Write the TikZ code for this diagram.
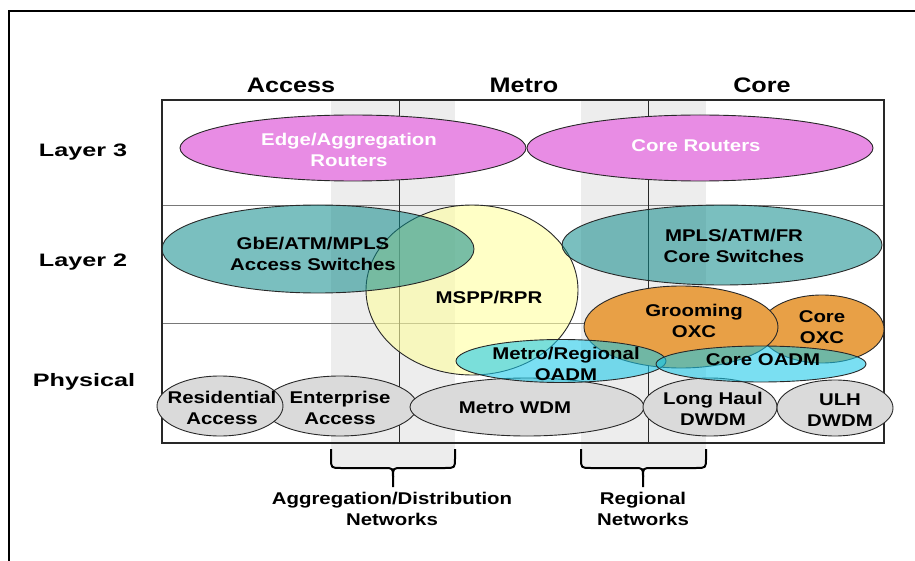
\documentclass[tikz,border=0pt]{standalone}
\usepackage{fontspec}
\usetikzlibrary{shapes.geometric}
\newfontfamily\labfont{Liberation Sans}[FakeStretch=1.2]
\newfontfamily\rowfont{Liberation Sans}[FakeStretch=1.4]
\definecolor{bandgray}{RGB}{237,237,237}
\definecolor{mag}{RGB}{232,140,228}
\definecolor{tealc}{RGB}{13,138,138}
\definecolor{yel}{RGB}{255,255,160}
\definecolor{orng}{RGB}{232,160,70}
\definecolor{cyanc}{RGB}{26,200,233}
\definecolor{grayc}{RGB}{218,218,218}
\definecolor{edgec}{RGB}{40,40,40}
\definecolor{gridgray}{RGB}{120,120,120}
\begin{document}
\begin{tikzpicture}[x=1pt,y=-1pt,
  oval/.style={ellipse, draw=edgec, line width=0.9pt, inner sep=0pt},
  lbl/.style={font=\labfont\bfseries\fontsize{17}{21}\selectfont, align=center, inner sep=0pt},
  hdr/.style={font=\labfont\bfseries\fontsize{21}{25}\selectfont, inner sep=0pt},
  rowlbl/.style={font=\rowfont\bfseries\fontsize{18}{22}\selectfont, inner sep=0pt},
  band/.style={fill=bandgray, draw=none},
  bracestyle/.style={draw=black, line width=2pt, line join=round}
]
\useasboundingbox (0,0) rectangle (915,561);
% outer frame
\coordinate (fbl) at (9,561);
\coordinate (ftl) at (9,11);
\coordinate (ftr) at (915,11);
\draw[line width=2.5pt] (fbl) -- (ftl) -- (ftr);
% shaded bands
\fill[band] (331,100) rectangle (455,467);
\fill[band] (581,100) rectangle (706,467);
% grid
\coordinate (gtl) at (162,100);
\coordinate (gbr) at (884,443);
\draw[gridgray, line width=0.9pt] (162,205) -- (884,205);
\draw[gridgray, line width=0.9pt] (162,323) -- (884,323);
\draw[edgec, line width=1pt] (399,100) -- (399,443);
\draw[edgec, line width=1pt] (648,100) -- (648,443);
\draw[edgec, line width=1.3pt] (gtl) rectangle (gbr);
% layer 3
\node[oval, fill=mag, minimum width=346pt, minimum height=66pt] (er) at (353,148) {};
\node[oval, fill=mag, minimum width=346pt, minimum height=66pt] (cr) at (700,148) {};
% layer 2
\node[oval, fill=yel, fill opacity=0.6, minimum width=212pt, minimum height=170pt] (mspp) at (472,290) {};
\node[oval, fill=tealc, fill opacity=0.55, minimum width=312pt, minimum height=88pt] (gbe) at (318,249) {};
\node[oval, fill=tealc, fill opacity=0.55, minimum width=320pt, minimum height=80pt] (mplsc) at (722,245) {};
% OXC
\node[oval, fill=orng, minimum width=124pt, minimum height=68pt] (coxc) at (822,329) {};
\node[oval, fill=orng, minimum width=194pt, minimum height=82pt] (goxc) at (681,327) {};
% physical
\node[oval, fill=grayc, minimum width=154pt, minimum height=60pt] (ent) at (340,406) {};
\node[oval, fill=grayc, minimum width=126pt, minimum height=60pt] (res) at (220,406) {};
\node[oval, fill=grayc, minimum width=234pt, minimum height=58pt] (mwdm) at (527,407) {};
\node[oval, fill=grayc, minimum width=134pt, minimum height=58pt] (lh) at (710,407) {};
\node[oval, fill=grayc, minimum width=116pt, minimum height=56pt] (ulh) at (835,408) {};
% OADM
\node[oval, fill=cyanc, fill opacity=0.58, minimum width=210pt, minimum height=43pt] (mro) at (561,361) {};
\node[oval, fill=cyanc, fill opacity=0.58, minimum width=210pt, minimum height=36pt] (coadm) at (761,364) {};
% texts
\node[hdr] (hacc) at (291,85) {Access};
\node[hdr] (hmet) at (524,85) {Metro};
\node[hdr] (hcor) at (762,85) {Core};
\node[rowlbl] (l3) at (83,152) {Layer 3};
\node[rowlbl] (l2) at (83,262) {Layer 2};
\node[rowlbl] (lp) at (84,382) {Physical};
\node[lbl, text=white] (ter) at (349,150) {Edge/Aggregation\\Routers};
\node[lbl, text=white] (tcr) at (696,146) {Core Routers};
\node[lbl] (tgbe) at (313,254) {GbE/ATM/MPLS\\Access Switches};
\node[lbl] (tmspp) at (489,298) {MSPP/RPR};
\node[lbl] (tmplsc) at (734,246) {MPLS/ATM/FR\\Core Switches};
\node[lbl] (tgoxc) at (694,321) {Grooming\\OXC};
\node[lbl] (tcoxc) at (822,327) {Core\\OXC};
\node[lbl] (tmro) at (566,364) {Metro/Regional\\OADM};
\node[lbl] (tcoadm) at (763,360) {Core OADM};
\node[lbl] (tres) at (222,408) {Residential\\Access};
\node[lbl] (tent) at (340,408) {Enterprise\\Access};
\node[lbl] (tmwdm) at (515,408) {Metro WDM};
\node[lbl] (tlh) at (713,409) {Long Haul\\DWDM};
\node[lbl] (tulh) at (840,410) {ULH\\DWDM};
\node[lbl] (tagg) at (392,509) {Aggregation/Distribution\\Networks};
\node[lbl] (treg) at (643,509) {Regional\\Networks};
% braces
\coordinate (b1l) at (331,449); \coordinate (b1r) at (455,449); \coordinate (b1t) at (393,487);
\coordinate (b2l) at (581,449); \coordinate (b2r) at (706,449); \coordinate (b2t) at (643,487);
\draw[bracestyle] (b1l) -- (331,458) .. controls (331,468) .. (341,468) -- (384,468) .. controls (393,468) .. (393,477) -- (b1t);
\draw[bracestyle] (b1r) -- (455,458) .. controls (455,468) .. (445,468) -- (402,468) .. controls (393,468) .. (393,477);
\draw[bracestyle] (b2l) -- (581,458) .. controls (581,468) .. (591,468) -- (634,468) .. controls (643,468) .. (643,477) -- (b2t);
\draw[bracestyle] (b2r) -- (706,458) .. controls (706,468) .. (696,468) -- (652,468) .. controls (643,468) .. (643,477);
\end{tikzpicture}
\end{document}
